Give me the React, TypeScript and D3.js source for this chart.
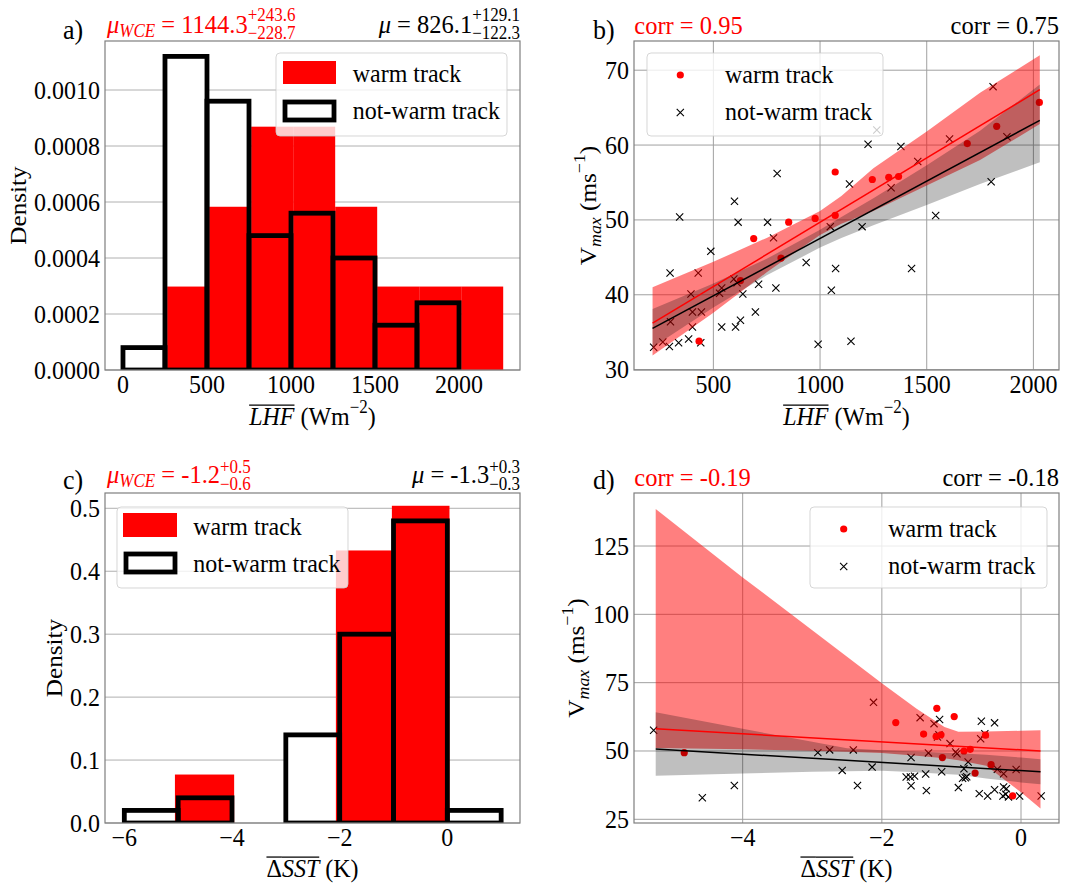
import React from 'react';
import * as d3 from 'd3';

const SERIF = "Liberation Serif, Times New Roman, DejaVu Serif, serif";
const RED = '#ff0000';

// ---------------- data ----------------
// (a) LHF histogram (density)
const lhfWarmEdges = [263, 513, 763, 1013, 1263, 1513, 1763, 2013, 2263];
const lhfWarmDensity = [0.000298, 0.000583, 0.000869, 0.000869, 0.000583, 0.000298, 0.000298, 0.000298];
const lhfNotWarmEdges = [0, 250, 500, 750, 1000, 1250, 1500, 1750, 2000];
const lhfNotWarmDensity = [0.00008, 0.00112, 0.00096, 0.00048, 0.00056, 0.0004, 0.00016, 0.00024];
const lhfXTicks = [0, 500, 1000, 1500, 2000];
const lhfDensTicks = [0, 0.0002, 0.0004, 0.0006, 0.0008, 0.001];

// (b) Vmax vs LHF
const lhfWarmX = [433, 627, 689, 817, 853, 977, 1071, 1071, 1245, 1322, 1368, 1690, 1828, 2028];
const vmaxWarmB = [33.8, 41.9, 47.5, 44.9, 49.7, 50.2, 56.4, 50.6, 55.4, 55.7, 55.8, 60.2, 62.5, 65.7];
const lhfNotWarmX = [220, 263, 294, 297, 299, 337, 342, 384, 395, 402, 402, 429, 441, 444, 488, 529, 539, 539, 599, 596,
  611, 604, 616, 627, 638, 697, 712, 754, 782, 793, 799, 935, 991, 1048, 1053, 1073, 1138, 1145, 1197, 1225,
  1266, 1333, 1379, 1429, 1458, 1542, 1607, 1802, 1811, 1876];
const vmaxNotWarmB = [33.0, 33.7, 33.1, 42.9, 36.4, 33.6, 50.4, 34.1, 40.1, 37.7, 35.7, 42.9, 33.6, 37.7, 45.8, 40.2, 40.9, 35.7, 52.5, 42.1,
  41.6, 35.7, 49.7, 36.6, 40.1, 37.7, 41.4, 49.7, 47.6, 40.9, 56.2, 44.3, 33.4, 49.1, 40.6, 43.5, 54.8, 33.8, 49.1, 60.1,
  62.0, 54.3, 59.8, 43.5, 57.8, 50.6, 60.8, 55.1, 67.8, 61.1];
const bandXB = [215, 500, 750, 1000, 1100, 1250, 1500, 1750, 2030];
const warmUpperB = [41.0, 44.4, 47.6, 51.2, 53.2, 56.9, 61.8, 67.0, 72.0];
const warmLowerB = [31.9, 37.6, 43.0, 48.0, 49.5, 51.2, 54.6, 58.0, 62.8];
const notWarmUpperB = [38.1, 41.5, 44.8, 48.7, 50.4, 52.9, 57.3, 61.9, 68.1];
const notWarmLowerB = [33.0, 38.3, 42.6, 46.3, 47.6, 49.3, 52.0, 54.8, 57.7];
const lineXB = [215, 2030];
const warmLineB = [36.2, 67.4];
const notWarmLineB = [35.5, 63.3];
const lhfScatterXTicks = [500, 1000, 1500, 2000];
const vmaxTicksB = [30, 40, 50, 60, 70];

// (c) dSST histogram (density)
const sstNotWarmEdges = [-6, -5, -4, -3, -2, -1, 0, 1];
const sstNotWarmDensity = [0.02, 0.04, 0, 0.14, 0.30, 0.48, 0.02];
const sstWarmLeft = [-5.06, -2.07, -1.03];
const sstWarmRight = [-3.96, -1.03, 0.04];
const sstWarmDensity = [0.077, 0.433, 0.504];
const sstXTicks = [-6, -4, -2, 0];
const sstDensTicks = [0, 0.1, 0.2, 0.3, 0.4, 0.5];

// (d) Vmax vs dSST
const sstWarmX = [-4.84, -1.80, -1.21, -0.96, -1.40, -1.22, -1.15, -0.51, -1.13, -0.82, -0.73, -0.43, -0.66, -0.12];
const vmaxWarmD = [49.4, 60.4, 65.6, 62.6, 56.2, 55.3, 55.9, 55.8, 47.6, 50.0, 50.6, 45.0, 41.9, 33.6];
const sstNotWarmX = [-5.28, -4.58, -4.12, -2.92, -2.75, -2.57, -2.41, -2.35, -2.14, -2.12,
  -1.45, -1.25, -1.17, -1.20, -1.18, -1.02, -1.33, -1.58, -1.14, -1.37, -1.65, -1.59, -1.53, -1.58, -1.36,
  -0.57, -0.38, -0.52, -0.58, -0.94, -0.92, -0.76, -0.82, -0.80, -0.78, -0.84, -0.90, -0.34, -0.25, -0.07,
  -0.60, -0.48, -0.38, -0.26, -0.22, -0.21, -0.18, -0.25, -0.02, 0.29];
const vmaxNotWarmD = [57.6, 32.9, 37.4, 49.4, 50.4, 42.9, 50.4, 37.4, 44.1, 67.8,
  62.2, 60.0, 61.5, 55.1, 55.9, 52.7, 49.3, 47.6, 42.4, 41.6, 40.5, 40.5, 40.8, 37.3, 35.5,
  60.9, 60.3, 56.3, 54.5, 49.6, 49.0, 46.0, 43.5, 40.2, 40.6, 40.0, 36.6, 43.3, 41.7, 43.2,
  34.4, 33.5, 35.8, 33.5, 34.2, 36.2, 33.2, 36.8, 33.5, 33.5];
const bandXD = [-5.25, -4, -3, -2.5, -2, -1.5, -1.1, -0.9, -0.5, 0, 0.28];
const warmUpperD = [138.5, 113.5, 94.2, 84.5, 74.8, 65.5, 58.8, 57.0, 57.1, 57.4, 57.6];
const warmLowerD = [51.1, 50.6, 50.1, 49.7, 49.3, 48.3, 47.3, 46.6, 44.6, 34.9, 29.0];
const notWarmUpperD = [64.2, 58.1, 53.4, 51.0, 50.3, 49.8, 49.4, 49.2, 48.6, 47.6, 47.0];
const notWarmLowerD = [40.9, 41.8, 42.4, 42.6, 42.8, 42.2, 41.6, 41.3, 39.9, 38.5, 37.8];
const lineXD = [-5.25, 0.28];
const warmLineD = [58.1, 50.0];
const notWarmLineD = [50.7, 42.4];
const sstScatterXTicks = [-4, -2, 0];
const vmaxTicksD = [25, 50, 75, 100, 125];

const legendLabels = ['warm track', 'not-warm track'];

// ---------------- helpers ----------------
const FS = 24;
const TS = 24.5;
const SS = 17;
const VSTRETCH = 1.05;

let _ctx: CanvasRenderingContext2D | null = null;
function tw(s: string, size: number, it = false) {
  if (!_ctx && typeof document !== 'undefined') _ctx = document.createElement('canvas').getContext('2d');
  if (!_ctx) return s.length * size * 0.5;
  _ctx.font = `${it ? 'italic ' : ''}${size}px "Liberation Serif", "Times New Roman", serif`;
  return _ctx.measureText(s).width;
}

type Run = { t?: string; it?: boolean; sz?: number; dy?: number; over?: boolean; sup?: string; sub?: string };

function MathText({ x, y, runs, anchor = 'start', color = '#000', rotate = 0, size = FS, supDy = -11, subDy = 6 }:
  { x: number; y: number; runs: Run[]; anchor?: string; color?: string; rotate?: number; size?: number; supDy?: number; subDy?: number }) {
  const items: { t: string; x: number; dy: number; sz: number; it?: boolean }[] = [];
  const overs: [number, number][] = [];
  let cx = 0;
  runs.forEach((r) => {
    if (r.sup !== undefined || r.sub !== undefined) {
      const w1 = r.sup ? tw(r.sup, SS) : 0;
      const w2 = r.sub ? tw(r.sub, SS) : 0;
      if (r.sup) items.push({ t: r.sup, x: cx, dy: supDy, sz: SS });
      if (r.sub) items.push({ t: r.sub, x: cx, dy: subDy, sz: SS });
      cx += Math.max(w1, w2);
    } else {
      const sz = r.sz ?? size;
      const t = r.t ?? '';
      const w = tw(t, sz, r.it);
      items.push({ t, x: cx, dy: r.dy ?? 0, sz, it: r.it });
      if (r.over) overs.push([cx, cx + w]);
      cx += w;
    }
  });
  const off = anchor === 'middle' ? -cx / 2 : anchor === 'end' ? -cx : 0;
  return (
    <g transform={`translate(${x},${y}) scale(1,${VSTRETCH}) rotate(${rotate})`} fill={color}>
      {items.map((it, i) => (
        <text key={i} x={it.x + off} y={it.dy} fontSize={it.sz} fontStyle={it.it ? 'italic' : 'normal'}
          style={{ whiteSpace: 'pre', fontFamily: SERIF }}>{it.t}</text>
      ))}
      {overs.map((o, i) => (
        <line key={'o' + i} x1={o[0] + off} x2={o[1] + off} y1={-19} y2={-19} stroke={color} strokeWidth={1.2} />
      ))}
    </g>
  );
}

type Box = { l: number; r: number; t: number; b: number };

function HGrid({ box, y, ticks, color = '#b0b0b0' }: { box: Box; y: any; ticks: number[]; color?: string }) {
  return <g>{ticks.map((t) => <line key={t} x1={box.l} x2={box.r} y1={y(t)} y2={y(t)} stroke={color} strokeWidth={1} />)}</g>;
}
function VGrid({ box, x, ticks, color = '#b0b0b0' }: { box: Box; x: any; ticks: number[]; color?: string }) {
  return <g>{ticks.map((t) => <line key={t} y1={box.t} y2={box.b} x1={x(t)} x2={x(t)} stroke={color} strokeWidth={1} />)}</g>;
}

function Frame({ box, x, y, xTicks, yTicks, xFmt, yFmt }: any) {
  return (
    <g>
      <rect x={box.l} y={box.t} width={box.r - box.l} height={box.b - box.t} fill="none" stroke="#7f7f7f" strokeWidth={1.2} />
      {xTicks.map((t: number) => (
        <g key={'x' + t} transform={`translate(${x(t)},${box.b + 23}) scale(1,${VSTRETCH})`}>
          <text textAnchor="middle" fontSize={FS} style={{ fontFamily: SERIF }}>{xFmt(t)}</text>
        </g>
      ))}
      {yTicks.map((t: number) => (
        <g key={'y' + t} transform={`translate(${box.l - 5},${y(t) + 8.5}) scale(1,${VSTRETCH})`}>
          <text textAnchor="end" fontSize={FS} style={{ fontFamily: SERIF }}>{yFmt(t)}</text>
        </g>
      ))}
    </g>
  );
}

function Cross({ cx, cy, s = 3.6 }: { cx: number; cy: number; s?: number }) {
  return <path d={`M${cx - s},${cy - s}L${cx + s},${cy + s}M${cx - s},${cy + s}L${cx + s},${cy - s}`} stroke="#000" strokeWidth={1.1} fill="none" />;
}

function LegendBox({ x0, y0, x1, y1 }: { x0: number; y0: number; x1: number; y1: number }) {
  return <rect x={x0} y={y0} width={x1 - x0} height={y1 - y0} rx={4} fill="#fff" fillOpacity={0.8} stroke="#cccccc" strokeOpacity={0.8} strokeWidth={1} />;
}

function LegendText({ x, y, t }: { x: number; y: number; t: string }) {
  return (
    <g transform={`translate(${x},${y}) scale(1,${VSTRETCH})`}>
      <text fontSize={FS} style={{ whiteSpace: 'pre', fontFamily: SERIF }}>{t}</text>
    </g>
  );
}

const minusFmt = (f: (n: number) => string) => (n: number) => f(n).replace('-', '\u2212');

// ---------------- panels ----------------
function PanelA() {
  const box: Box = { l: 105, r: 520, t: 41, b: 370 };
  const x = d3.scaleLinear().domain([-107, 2363]).range([box.l, box.r]);
  const y = d3.scaleLinear().domain([0, 0.001175]).range([box.b, box.t]);
  const nw = lhfNotWarmDensity.map((d, i) => ({ x0: lhfNotWarmEdges[i], x1: lhfNotWarmEdges[i + 1], d }));
  const w = lhfWarmDensity.map((d, i) => ({ x0: lhfWarmEdges[i], x1: lhfWarmEdges[i + 1], d }));
  return (
    <g>
      <defs><clipPath id="clipA"><rect x={box.l} y={box.t} width={box.r - box.l} height={box.b - box.t} /></clipPath></defs>
      <HGrid box={box} y={y} ticks={lhfDensTicks} />
      <g clipPath="url(#clipA)">
        {nw.map((b, i) => <rect key={'nf' + i} x={x(b.x0)} y={y(b.d)} width={x(b.x1) - x(b.x0)} height={y(0) - y(b.d)} fill="#fff" />)}
        {w.map((b, i) => <rect key={'w' + i} x={x(b.x0)} y={y(b.d)} width={x(b.x1) - x(b.x0)} height={y(0) - y(b.d)} fill={RED} />)}
        {nw.map((b, i) => <rect key={'ns' + i} x={x(b.x0)} y={y(b.d)} width={x(b.x1) - x(b.x0)} height={y(0) - y(b.d)} fill="none" stroke="#000" strokeWidth={4.8} />)}
      </g>
      <Frame box={box} x={x} y={y} xTicks={lhfXTicks} yTicks={lhfDensTicks} xFmt={d3.format('d')} yFmt={d3.format('.4f')} />
      <LegendBox x0={276} y0={53} x1={507} y1={136} />
      <rect x={283} y={61} width={53} height={23} fill={RED} />
      <rect x={285} y={102} width={49} height={18} fill="#fff" stroke="#000" strokeWidth={4.8} />
      <LegendText x={352.7} y={81.5} t={legendLabels[0]} />
      <LegendText x={352.7} y={119} t={legendLabels[1]} />
      <MathText x={63} y={39} size={26} runs={[{ t: 'a)' }]} />
      <MathText x={107} y={33} size={TS} color={RED} runs={[{ t: 'μ', it: true }, { t: 'WCE', it: true, sz: 17, dy: 4 }, { t: ' = 1144.3' }, { sup: '+243.6', sub: '\u2212228.7' }]} />
      <MathText x={520} y={33} size={TS} anchor="end" runs={[{ t: 'μ', it: true }, { t: ' = 826.1' }, { sup: '+129.1', sub: '\u2212122.3' }]} />
      <MathText x={312.5} y={425} anchor="middle" runs={[{ t: 'LHF', it: true, over: true }, { t: ' (Wm' }, { sup: '\u22122' }, { t: ')' }]} />
      <MathText x={26} y={205.5} rotate={-90} anchor="middle" runs={[{ t: 'Density' }]} />
    </g>
  );
}

function ScatterPanel({ id, box, xDom, yDom, xTicks, yTicks, nwX, nwY, wX, wY, bandX, wUp, wLo, nUp, nLo, lineX, wLine, nLine, xFmt, yFmt, legend }: any) {
  const x = d3.scaleLinear().domain(xDom).range([box.l, box.r]);
  const y = d3.scaleLinear().domain(yDom).range([box.b, box.t]);
  const idx = bandX.map((_: number, i: number) => i);
  const wArea = d3.area<number>().x((d) => x(bandX[d])).y0((d) => y(wLo[d])).y1((d) => y(wUp[d]))(idx) as string;
  const nArea = d3.area<number>().x((d) => x(bandX[d])).y0((d) => y(nLo[d])).y1((d) => y(nUp[d]))(idx) as string;
  const line = (vals: number[]) => d3.line<number>().x((d) => x(lineX[d])).y((d) => y(vals[d]))([0, 1]) as string;
  return (
    <g>
      <defs><clipPath id={id}><rect x={box.l} y={box.t} width={box.r - box.l} height={box.b - box.t} /></clipPath></defs>
      <HGrid box={box} y={y} ticks={yTicks} color="#a0a0a0" />
      <VGrid box={box} x={x} ticks={xTicks} color="#a0a0a0" />
      <g clipPath={`url(#${id})`}>
        {nwX.map((v: number, i: number) => <Cross key={'c' + i} cx={x(v)} cy={y(nwY[i])} />)}
        {wX.map((v: number, i: number) => <circle key={'d' + i} cx={x(v)} cy={y(wY[i])} r={3.6} fill={RED} />)}
        <path d={wArea} fill={RED} fillOpacity={0.5} />
        <path d={nArea} fill="#000" fillOpacity={0.25} />
        <path d={line(wLine)} stroke={RED} strokeWidth={1.5} fill="none" />
        <path d={line(nLine)} stroke="#000" strokeWidth={1.5} fill="none" />
      </g>
      <Frame box={box} x={x} y={y} xTicks={xTicks} yTicks={yTicks} xFmt={xFmt} yFmt={yFmt} />
      <LegendBox x0={legend.x0} y0={legend.y0} x1={legend.x1} y1={legend.y1} />
      <circle cx={legend.mx} cy={legend.y0 + 22} r={3.6} fill={RED} />
      <Cross cx={legend.mx} cy={legend.y0 + 59.5} />
      <LegendText x={legend.tx} y={legend.y0 + 29.5} t={legendLabels[0]} />
      <LegendText x={legend.tx} y={legend.y0 + 67} t={legendLabels[1]} />
    </g>
  );
}

function PanelB() {
  const box: Box = { l: 634, r: 1059, t: 41, b: 370 };
  return (
    <g>
      <ScatterPanel id="clipB" box={box} xDom={[128, 2120]} yDom={[29.95, 73.9]} xTicks={lhfScatterXTicks} yTicks={vmaxTicksB}
        nwX={lhfNotWarmX} nwY={vmaxNotWarmB} wX={lhfWarmX} wY={vmaxWarmB}
        bandX={bandXB} wUp={warmUpperB} wLo={warmLowerB} nUp={notWarmUpperB} nLo={notWarmLowerB}
        lineX={lineXB} wLine={warmLineB} nLine={notWarmLineB}
        xFmt={d3.format('d')} yFmt={d3.format('d')}
        legend={{ x0: 647, y0: 53, x1: 883, y1: 136, mx: 680.3, tx: 725 }} />
      <MathText x={593} y={39} size={26} runs={[{ t: 'b)' }]} />
      <MathText x={634.3} y={34} size={TS} color={RED} runs={[{ t: 'corr = 0.95' }]} />
      <MathText x={1059} y={34} size={TS} anchor="end" runs={[{ t: 'corr = 0.75' }]} />
      <MathText x={846.5} y={425} anchor="middle" runs={[{ t: 'LHF', it: true, over: true }, { t: ' (Wm' }, { sup: '\u22122' }, { t: ')' }]} />
      <MathText x={596} y={205.5} rotate={-90} anchor="middle" runs={[{ t: 'V' }, { t: 'max', it: true, sz: 17, dy: 5 }, { t: ' (ms' }, { sup: '\u22121' }, { t: ')' }]} />
    </g>
  );
}

function PanelC() {
  const box: Box = { l: 105, r: 520, t: 493, b: 823 };
  const x = d3.scaleLinear().domain([-6.359, 1.35]).range([box.l, box.r]);
  const y = d3.scaleLinear().domain([0, 0.5243]).range([box.b, box.t]);
  const nw = sstNotWarmDensity.map((d, i) => ({ x0: sstNotWarmEdges[i], x1: sstNotWarmEdges[i + 1], d }));
  const w = sstWarmDensity.map((d, i) => ({ x0: sstWarmLeft[i], x1: sstWarmRight[i], d }));
  const fmt = minusFmt(d3.format('d'));
  return (
    <g>
      <defs><clipPath id="clipC"><rect x={box.l} y={box.t} width={box.r - box.l} height={box.b - box.t} /></clipPath></defs>
      <HGrid box={box} y={y} ticks={sstDensTicks} />
      <g clipPath="url(#clipC)">
        {nw.map((b, i) => <rect key={'nf' + i} x={x(b.x0)} y={y(b.d)} width={x(b.x1) - x(b.x0)} height={y(0) - y(b.d)} fill="#fff" />)}
        {w.map((b, i) => <rect key={'w' + i} x={x(b.x0)} y={y(b.d)} width={x(b.x1) - x(b.x0)} height={y(0) - y(b.d)} fill={RED} />)}
        {nw.map((b, i) => <rect key={'ns' + i} x={x(b.x0)} y={y(b.d)} width={x(b.x1) - x(b.x0)} height={y(0) - y(b.d)} fill="none" stroke="#000" strokeWidth={4.8} />)}
      </g>
      <Frame box={box} x={x} y={y} xTicks={sstXTicks} yTicks={sstDensTicks} xFmt={fmt} yFmt={d3.format('.1f')} />
      <LegendBox x0={117} y0={507} x1={348} y1={588} />
      <rect x={123} y={513} width={54} height={24} fill={RED} />
      <rect x={126} y={554} width={49} height={18} fill="#fff" stroke="#000" strokeWidth={4.8} />
      <LegendText x={193.3} y={534.5} t={legendLabels[0]} />
      <LegendText x={193.3} y={572} t={legendLabels[1]} />
      <MathText x={63} y={489} size={26} runs={[{ t: 'c)' }]} />
      <MathText x={107} y={483} size={TS} color={RED} supDy={-10} subDy={7} runs={[{ t: 'μ', it: true }, { t: 'WCE', it: true, sz: 17, dy: 4 }, { t: ' = -1.2' }, { sup: '+0.5', sub: '\u22120.6' }]} />
      <MathText x={520} y={483} size={TS} anchor="end" supDy={-10} subDy={7} runs={[{ t: 'μ', it: true }, { t: ' = -1.3' }, { sup: '+0.3', sub: '\u22120.3' }]} />
      <MathText x={312.5} y={877} anchor="middle" runs={[{ t: 'Δ', over: true }, { t: 'SST', it: true, over: true }, { t: ' (K)' }]} />
      <MathText x={62} y={658} rotate={-90} anchor="middle" runs={[{ t: 'Density' }]} />
    </g>
  );
}

function PanelD() {
  const box: Box = { l: 634, r: 1059, t: 493, b: 823 };
  const fmt = minusFmt(d3.format('d'));
  return (
    <g>
      <ScatterPanel id="clipD" box={box} xDom={[-5.562, 0.546]} yDom={[23.65, 144.4]} xTicks={sstScatterXTicks} yTicks={vmaxTicksD}
        nwX={sstNotWarmX} nwY={vmaxNotWarmD} wX={sstWarmX} wY={vmaxWarmD}
        bandX={bandXD} wUp={warmUpperD} wLo={warmLowerD} nUp={notWarmUpperD} nLo={notWarmLowerD}
        lineX={lineXD} wLine={warmLineD} nLine={notWarmLineD}
        xFmt={fmt} yFmt={d3.format('d')}
        legend={{ x0: 810, y0: 507, x1: 1047, y1: 588, mx: 843.7, tx: 888.3 }} />
      <MathText x={593} y={489} size={26} runs={[{ t: 'd)' }]} />
      <MathText x={634.3} y={486} size={TS} color={RED} runs={[{ t: 'corr = -0.19' }]} />
      <MathText x={1059} y={486} size={TS} anchor="end" runs={[{ t: 'corr = -0.18' }]} />
      <MathText x={846.5} y={877} anchor="middle" runs={[{ t: 'Δ', over: true }, { t: 'SST', it: true, over: true }, { t: ' (K)' }]} />
      <MathText x={584} y={658} rotate={-90} anchor="middle" runs={[{ t: 'V' }, { t: 'max', it: true, sz: 17, dy: 5 }, { t: ' (ms' }, { sup: '\u22121' }, { t: ')' }]} />
    </g>
  );
}

export default function App() {
  return (
    <svg width={1067} height={887} viewBox="0 0 1067 887" style={{ position: 'absolute', left: 0, top: 0, display: 'block', background: '#fff', fontFamily: SERIF }}>
      <rect x={0} y={0} width={1067} height={887} fill="#fff" />
      <PanelA />
      <PanelB />
      <PanelC />
      <PanelD />
    </svg>
  );
}
